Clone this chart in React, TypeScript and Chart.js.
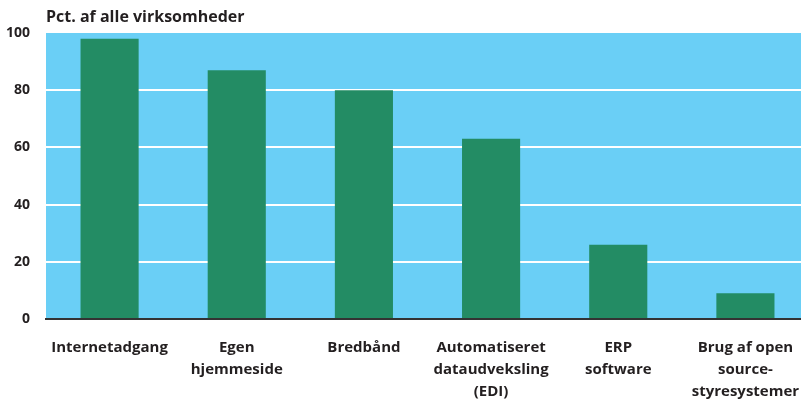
import React, { useEffect, useRef } from "react";
import { Chart, registerables } from "chart.js";

Chart.register(...registerables);

const categories: string[][] = [
  ["Internetadgang"],
  ["Egen", "hjemmeside"],
  ["Bredbånd"],
  ["Automatiseret", "dataudveksling", "(EDI)"],
  ["ERP", "software"],
  ["Brug af open", "source-", "styresystemer"],
];
const values: number[] = [98, 87, 80, 63, 26, 9];
const yTicks: number[] = [0, 20, 40, 60, 80, 100];
const yTitle = "Pct. af alle virksomheder";

const FONT = "'Open Sans', 'DejaVu Sans', sans-serif";

export default function App() {
  const ref = useRef<HTMLCanvasElement | null>(null);
  useEffect(() => {
    if (!ref.current) return;
    const bgPlugin = {
      id: "bg",
      beforeDraw(chart: any) {
        const { ctx, chartArea } = chart;
        ctx.save();
        ctx.fillStyle = "#6ACFF6";
        ctx.fillRect(chartArea.left, chartArea.top, chartArea.right - chartArea.left, chartArea.bottom - chartArea.top);
        ctx.restore();
      },
      afterDraw(chart: any) {
        const { ctx, chartArea } = chart;
        ctx.save();
        ctx.fillStyle = "#231F20";
        ctx.font = `bold 16px ${FONT}`;
        ctx.textAlign = "left";
        ctx.textBaseline = "middle";
        ctx.fillText(yTitle, chartArea.left, 17);
        ctx.restore();
      },
    };
    const chart = new Chart(ref.current, {
      type: "bar",
      data: {
        labels: categories,
        datasets: [
          {
            data: values,
            backgroundColor: "#238C64",
            barPercentage: 0.457,
            categoryPercentage: 1,
          },
        ],
      },
      options: {
        animation: false,
        responsive: false,
        maintainAspectRatio: false,
        layout: { padding: { top: 33, right: 0, left: 0, bottom: 0 } },
        plugins: { legend: { display: false }, tooltip: { enabled: false }, title: { display: false } },
        scales: {
          x: {
            grid: { display: false, drawTicks: false },
            border: { display: true, color: "#333333", width: 2 },
            ticks: {
              color: "#231F20",
              font: { family: FONT, size: 15, weight: "bold", lineHeight: 1.45 },
              padding: 18,
              maxRotation: 0,
              autoSkip: false,
            },
            afterFit(scale: any) {
              scale.height = 84;
              scale.paddingLeft = 0;
              scale.paddingRight = 0;
            },
          },
          y: {
            min: 0,
            max: 100,
            afterBuildTicks(scale: any) {
              scale.ticks = yTicks.map((v) => ({ value: v }));
            },
            grid: {
              drawTicks: false,
              lineWidth: 2,
              color: (c: any) => (c.tick && (c.tick.value === 0 || c.tick.value === 100) ? "rgba(0,0,0,0)" : "#FFFFFF"),
            },
            border: { display: false },
            ticks: {
              color: "#231F20",
              font: { family: FONT, size: 14, weight: "bold" },
              padding: 16,
            },
            afterFit(scale: any) {
              scale.width = 46;
              scale.paddingTop = 0;
              scale.paddingBottom = 0;
            },
          },
        },
      },
      plugins: [bgPlugin],
    });
    return () => chart.destroy();
  }, []);
  return (
    <div style={{ position: "fixed", top: 0, left: 0, width: 801, height: 403, overflow: "hidden" }}>
      <canvas ref={ref} width={809} height={403} style={{ display: "block", width: 809, height: 403 }} />
    </div>
  );
}
